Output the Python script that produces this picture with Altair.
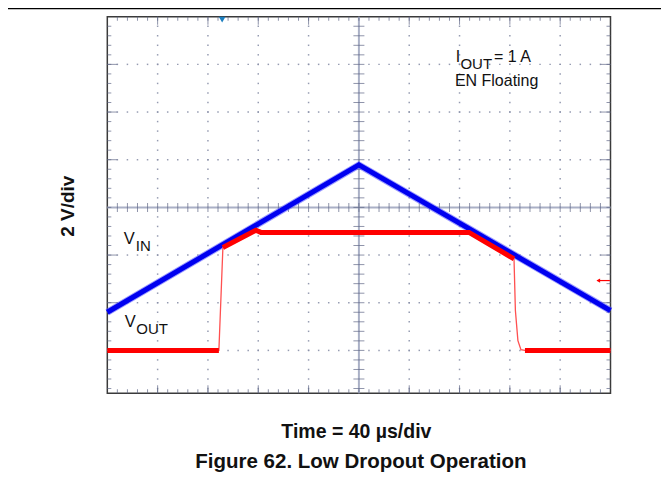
import altair as alt
import numpy as np
import pandas as pd

# ---------------- waveforms ----------------
# time in µs (40 µs/div, 0 = centre of screen); voltage in V (2 V/div, 0 = centre graticule line)
VIN_T = [-200.0, 0.0, 200.0]
VIN_V = [-4.40, 1.78, -4.33]

VOUT_T = [-200.0, -111.3, -108.1, -81.9, -77.9, 87.5, 123.3, 124.4, 126.4, 128.8, 132.0, 200.0]
VOUT_V = [-6.00, -6.00, -1.68, -0.96, -1.05, -1.05, -2.16, -4.33, -5.59, -5.97, -6.00, -6.00]
VOUT_SEG = ["off1", "off1", "on", "on", "on", "on", "on", "fall", "fall", "fall", "off2", "off2"]

# screen markers
TRIG_T = [-108.7]
ARROW_T = [189.5, 199.5]
ARROW_V = [-3.07]

# annotation texts (regular)
LABEL_TEXT = ["V", "IN", "V", "OUT", "I", "OUT", "= 1 A", "EN Floating"]
LABEL_T = [-186.9, -177.3, -186.1, -176.9, 76.9, 80.7, 107.4, 76.3]
LABEL_V = [-1.53, -1.81, -5.03, -5.30, 6.12, 5.80, 6.12, 5.10]
LABEL_SIZE = [16.5, 15, 16.5, 15, 16, 15, 16, 16]

# bold captions
TITLE_TEXT = ["Time = 40 µs/div", "Figure 62. Low Dropout Operation"]
TITLE_T = [-2.0, 1.6]
TITLE_V = [-9.68, -10.93]
TITLE_SIZE = [19.5, 20.5]
YLABEL = ["2 V/div"]
YLABEL_T = [-231.0]
YLABEL_V = [0.05]

# ---------------- screen graticule ----------------
T_MIN, T_MAX = -200.0, 200.0
V_MIN, V_MAX = -7.8, 8.0
MAJOR_T = [-160, -120, -80, -40, 40, 80, 120, 160]
MAJOR_V = [-6, -4, -2, 2, 4, 6]
MINOR_T = [float(t) for t in np.arange(-192, 193, 8)]
MINOR_V = [round(float(v), 2) for v in np.arange(-7.6, 7.61, 0.4)]

W, H = 503.2, 376.6
FONT = "Liberation Sans"
GRID_C = "#8a90a8"
AXIS_C = "#aab0c6"
TICK_C = "#5f6786"

xs = alt.Scale(domain=[T_MIN, T_MAX], nice=False, zero=False)
ys = alt.Scale(domain=[V_MIN, V_MAX], nice=False, zero=False)


def X(f):
    return alt.X(f, type="quantitative", scale=xs, axis=None)


def Y(f):
    return alt.Y(f, type="quantitative", scale=ys, axis=None)


# dotted graticule
dots = pd.DataFrame(
    [{"t": t, "v": v} for t in MAJOR_T for v in MINOR_V]
    + [{"t": t, "v": v} for v in MAJOR_V for t in MINOR_T]
)
grid = alt.Chart(dots).mark_square(size=2.2, color=GRID_C, opacity=0.9).encode(x=X("t"), y=Y("v"))

# centre cross lines
hline = alt.Chart(pd.DataFrame({"t": [T_MIN], "t2": [T_MAX], "v": [0.0]})).mark_rule(
    color=AXIS_C, strokeWidth=2).encode(x=X("t"), x2="t2", y=Y("v"))
vline = alt.Chart(pd.DataFrame({"v": [V_MIN], "v2": [V_MAX], "t": [0.0]})).mark_rule(
    color=AXIS_C, strokeWidth=2).encode(y=Y("v"), y2="v2", x=X("t"))

# ticks on centre lines
ct_h = alt.Chart(pd.DataFrame({"t": MINOR_T, "v": 0.0})).mark_tick(
    orient="vertical", size=9, thickness=1, color=TICK_C).encode(x=X("t"), y=Y("v"))
ct_v = alt.Chart(pd.DataFrame({"v": MINOR_V, "t": 0.0})).mark_tick(
    orient="horizontal", size=11, thickness=1, color=TICK_C).encode(x=X("t"), y=Y("v"))


def edge_ticks(vals, fixed, axis, size, off):
    if axis == "x":
        df = pd.DataFrame({"t": vals, "v": fixed})
        return alt.Chart(df).mark_tick(orient="vertical", size=size, thickness=1, color=TICK_C,
                                       yOffset=off).encode(x=X("t"), y=Y("v"))
    df = pd.DataFrame({"v": vals, "t": fixed})
    return alt.Chart(df).mark_tick(orient="horizontal", size=size, thickness=1, color=TICK_C,
                                   xOffset=off).encode(x=X("t"), y=Y("v"))


frame_ticks = [
    edge_ticks(MINOR_T, V_MAX, "x", 4, 2),
    edge_ticks(MAJOR_T, V_MAX, "x", 8, 4),
    edge_ticks(MINOR_T, V_MIN, "x", 4, -2),
    edge_ticks(MAJOR_T, V_MIN, "x", 8, -4),
    edge_ticks(MINOR_V, T_MIN, "y", 4, 2),
    edge_ticks(MAJOR_V, T_MIN, "y", 10, 5),
    edge_ticks(MINOR_V, T_MAX, "y", 4, -2),
    edge_ticks(MAJOR_V, T_MAX, "y", 10, -5),
]

# traces
vin_df = pd.DataFrame({"t": VIN_T, "v": VIN_V})
vout_df = pd.DataFrame({"t": VOUT_T, "v": VOUT_V, "seg": VOUT_SEG})

vin_halo = alt.Chart(vin_df).mark_line(color="#5a5aff", strokeWidth=7, opacity=0.6).encode(
    x=X("t"), y=Y("v"))
vin = alt.Chart(vin_df).mark_line(color="#0000f0", strokeWidth=5).encode(x=X("t"), y=Y("v"))
vout_thin = alt.Chart(vout_df).mark_line(color="#ff5050", strokeWidth=1.3).encode(
    x=X("t"), y=Y("v"), order="t:Q")
vout_thick = alt.Chart(vout_df).transform_filter(alt.datum.seg != "fall").mark_line(
    color="#ff0000", strokeWidth=5).encode(x=X("t"), y=Y("v"), detail="seg:N", order="t:Q")

# markers
trig = alt.Chart(pd.DataFrame({"t": TRIG_T, "v": V_MAX})).mark_point(
    shape="triangle-down", filled=True, size=45, color="#1c7fc0", opacity=1, yOffset=3).encode(
    x=X("t"), y=Y("v"))
arrow_line = alt.Chart(pd.DataFrame({"t": [ARROW_T[0]], "t2": [ARROW_T[1]], "v": ARROW_V})).mark_rule(
    color="#ff0000", strokeWidth=1.2).encode(x=X("t"), x2="t2", y=Y("v"))
arrow_head = alt.Chart(pd.DataFrame({"t": [ARROW_T[0]], "v": ARROW_V})).mark_point(
    shape="triangle-left", filled=True, size=18, color="#ff0000", opacity=1, xOffset=1).encode(
    x=X("t"), y=Y("v"))

# texts
labels = alt.Chart(pd.DataFrame({"text": LABEL_TEXT, "t": LABEL_T, "v": LABEL_V, "fs": LABEL_SIZE})).mark_text(
    align="left", baseline="alphabetic", font=FONT, color="#111111").encode(
    x=X("t"), y=Y("v"), text="text:N", size=alt.Size("fs:Q", scale=None, legend=None))
titles = alt.Chart(pd.DataFrame({"text": TITLE_TEXT, "t": TITLE_T, "v": TITLE_V, "fs": TITLE_SIZE})).mark_text(
    align="center", baseline="alphabetic", font=FONT, fontWeight="bold", color="#111111").encode(
    x=X("t"), y=Y("v"), text="text:N", size=alt.Size("fs:Q", scale=None, legend=None))
ylabel = alt.Chart(pd.DataFrame({"text": YLABEL, "t": YLABEL_T, "v": YLABEL_V})).mark_text(
    align="center", baseline="middle", angle=270, font=FONT, fontWeight="bold", fontSize=19,
    color="#111111").encode(x=X("t"), y=Y("v"), text="text:N")

header = alt.Chart(pd.DataFrame({"a": [0]})).mark_rule(color="#000000", strokeWidth=1.4).encode(
    x=alt.value(-100), x2=alt.value(558), y=alt.value(-8.1))

chart = alt.layer(
    grid, hline, vline, ct_h, ct_v, *frame_ticks,
    vin_halo, vin, vout_thin, vout_thick,
    trig, arrow_line, arrow_head,
    labels, titles, ylabel, header,
).properties(
    width=W, height=H,
    autosize=alt.AutoSizeParams(type="none"),
    padding={"left": 99.3, "top": 8.7, "right": 50, "bottom": 80},
    background="white",
).configure_view(stroke="#3a3a3a", strokeWidth=1.5)

chart.save("out.html", embed_options={"renderer": "svg", "actions": False})
